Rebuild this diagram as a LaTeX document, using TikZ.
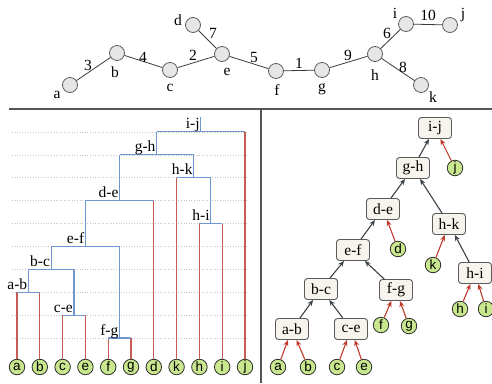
\documentclass[tikz,border=0pt]{standalone}
\usepackage{fontspec}
\setmainfont{Liberation Serif}
\newfontfamily\leaffont{Liberation Sans}
\usetikzlibrary{arrows.meta}

\definecolor{graphline}{HTML}{3A3A3A}
\definecolor{graphfill}{HTML}{E6E6E6}
\definecolor{graphdraw}{HTML}{5E5E5E}
\definecolor{dendblue}{HTML}{7096D2}
\definecolor{dendred}{HTML}{C65A55}
\definecolor{gridgray}{HTML}{C4C4C4}
\definecolor{leafgreen}{HTML}{C9E78E}
\definecolor{leafdraw}{HTML}{2E2E2E}
\definecolor{boxfill}{HTML}{F6F4EC}
\definecolor{boxdraw}{HTML}{5A5A5A}
\definecolor{arrowdark}{HTML}{3C4148}
\definecolor{arrowred}{HTML}{C0392B}
\definecolor{divider}{HTML}{555555}

\tikzset{
  gnode/.style={circle, draw=graphdraw, fill=graphfill, line width=0.8pt, minimum size=15pt, inner sep=0pt},
  gedge/.style={draw=graphline, line width=0.8pt},
  gtext/.style={inner sep=0pt, font=\fontsize{15.5}{17}\selectfont},
  leaf/.style={circle, draw=leafdraw, fill=leafgreen, line width=0.8pt, minimum size=15.5pt, inner sep=0pt,
    font=\leaffont\fontsize{13.5}{14}\selectfont},
  grid/.style={draw=gridgray, line width=0.6pt, dotted},
  redline/.style={draw=dendred, line width=1.1pt},
  blueline/.style={draw=dendblue, line width=1.1pt},
  dtext/.style={anchor=base east, inner sep=0pt, font=\fontsize{15.5}{17}\selectfont},
  mbox/.style={rectangle, rounded corners=3pt, draw=boxdraw, fill=boxfill, line width=0.9pt,
    minimum width=33pt, minimum height=21pt, inner sep=1pt, font=\fontsize{15.5}{17}\selectfont},
  darrow/.style={draw=arrowdark, line width=1.1pt, -{Stealth[length=6pt,width=5pt]}},
  rarrow/.style={draw=arrowred, line width=1.1pt, -{Stealth[length=6pt,width=5pt]}},
  sep/.style={draw=divider, line width=1.4pt}
}

\begin{document}
\begin{tikzpicture}[x=1pt,y=-1pt]
\useasboundingbox (0,0) rectangle (492,383);

% ---------------- weighted graph ----------------
\node[gnode] (va) at (70,85) {};
\node[gnode] (vb) at (117,53) {};
\node[gnode] (vc) at (170,70) {};
\node[gnode] (vd) at (193,25) {};
\node[gnode] (ve) at (222,54) {};
\node[gnode] (vf) at (276,71) {};
\node[gnode] (vg) at (322,70) {};
\node[gnode] (vh) at (375,54) {};
\node[gnode] (vi) at (406,24) {};
\node[gnode] (vj) at (450,25) {};
\node[gnode] (vk) at (421,85) {};

\draw[gedge] (va) -- (vb);
\draw[gedge] (vb) -- (vc);
\draw[gedge] (vc) -- (ve);
\draw[gedge] (vd) -- (ve);
\draw[gedge] (ve) -- (vf);
\draw[gedge] (vf) -- (vg);
\draw[gedge] (vg) -- (vh);
\draw[gedge] (vh) -- (vi);
\draw[gedge] (vh) -- (vk);
\draw[gedge] (vi) -- (vj);

% vertex names
\node[gtext] (na) at (57,95) {a};
\node[gtext] (nb) at (115,72) {b};
\node[gtext] (nc) at (170,88) {c};
\node[gtext] (nd) at (178,20) {d};
\node[gtext] (ne) at (227,72) {e};
\node[gtext] (nf) at (277,90) {f};
\node[gtext] (ng) at (322,89) {g};
\node[gtext] (nh) at (375,75) {h};
\node[gtext] (ni) at (395,13) {i};
\node[gtext] (nj) at (463,15) {j};
\node[gtext] (nk) at (433,97) {k};

% edge weights
\node[gtext] (w3) at (88,65) {3};
\node[gtext] (w4) at (143,57) {4};
\node[gtext] (w2) at (193,55) {2};
\node[gtext] (w7) at (213,33) {7};
\node[gtext] (w5) at (254,57) {5};
\node[gtext] (w1) at (299,63) {1};
\node[gtext] (w9) at (348,55) {9};
\node[gtext] (w6) at (387,33) {6};
\node[gtext] (w10) at (428,15) {10};
\node[gtext] (w8) at (403,67) {8};

% panel dividers
\coordinate (hl) at (9,109);
\coordinate (hr) at (492,109);
\coordinate (vt) at (261,109);
\coordinate (vbm) at (261,383);
\draw[sep] (hl) -- (hr);
\draw[sep] (vt) -- (vbm);

% ---------------- dendrogram ----------------
\foreach \w in {1,...,10} {
  \draw[grid] (12,{338-22.9*(\w-1)}) -- (248,{338-22.9*(\w-1)});
}

\node[leaf] (la) at (17,367) {a};
\node[leaf] (lb) at (39.8,367) {b};
\node[leaf] (lc) at (62.6,367) {c};
\node[leaf] (le) at (85.4,367) {e};
\node[leaf] (lf) at (108.2,367) {f};
\node[leaf] (lg) at (131,367) {g};
\node[leaf] (ld) at (153.8,367) {d};
\node[leaf] (lk) at (176.6,367) {k};
\node[leaf] (lh) at (199.4,367) {h};
\node[leaf] (li) at (222.2,367) {i};
\node[leaf] (lj) at (245,367) {j};

% merge points: (middle of the pair, height of the edge weight)
\coordinate (mab) at (28.4,292.2);
\coordinate (mce) at (74,315.1);
\coordinate (mbc) at (51.2,269.3);
\coordinate (mfg) at (119.6,338);
\coordinate (mef) at (85.4,246.4);
\coordinate (mde) at (119.6,200.6);
\coordinate (mhi) at (210.8,223.5);
\coordinate (mhk) at (193.7,177.7);
\coordinate (mgh) at (156.65,154.8);
\coordinate (mij) at (200.8,131.9);
\coordinate (mtop) at (200.8,117);

% leaf stems
\draw[redline] (la.north) -- (la |- mab);
\draw[redline] (lb.north) -- (lb |- mab);
\draw[redline] (lc.north) -- (lc |- mce);
\draw[redline] (le.north) -- (le |- mce);
\draw[redline] (lf.north) -- (lf |- mfg);
\draw[redline] (lg.north) -- (lg |- mfg);
\draw[redline] (ld.north) -- (ld |- mde);
\draw[redline] (lk.north) -- (lk |- mhk);
\draw[redline] (lh.north) -- (lh |- mhi);
\draw[redline] (li.north) -- (li |- mhi);
\draw[redline] (lj.north) -- (lj |- mij);

% horizontal joins
\draw[blueline] (la |- mab) -- (lb |- mab);
\draw[blueline] (lc |- mce) -- (le |- mce);
\draw[blueline] (mab |- mbc) -- (mce |- mbc);
\draw[blueline] (lf |- mfg) -- (lg |- mfg);
\draw[blueline] (mbc |- mef) -- (mfg |- mef);
\draw[blueline] (mef |- mde) -- (ld |- mde);
\draw[blueline] (lh |- mhi) -- (li |- mhi);
\draw[blueline] (lk |- mhk) -- (mhi |- mhk);
\draw[blueline] (mde |- mgh) -- (mhk |- mgh);
\draw[blueline] (mgh |- mij) -- (lj |- mij);

% internal stems
\draw[blueline] (mab) -- (mab |- mbc);
\draw[blueline] (mce) -- (mce |- mbc);
\draw[blueline] (mbc) -- (mbc |- mef);
\draw[blueline] (mfg) -- (mfg |- mef);
\draw[blueline] (mef) -- (mef |- mde);
\draw[blueline] (mde) -- (mde |- mgh);
\draw[blueline] (mhi) -- (mhi |- mhk);
\draw[blueline] (mhk) -- (mhk |- mgh);
\draw[blueline] (mgh) -- (mgh |- mij);
\draw[blueline] (mij) -- (mtop);

% merge labels
\node[dtext] (tab) at ([shift={(-1,-3)}]mab) {a-b};
\node[dtext] (tce) at ([shift={(-1,-3)}]mce) {c-e};
\node[dtext] (tbc) at ([shift={(-1,-3)}]mbc) {b-c};
\node[dtext] (tfg) at ([shift={(-1,-3)}]mfg) {f-g};
\node[dtext] (tef) at ([shift={(-1,-3)}]mef) {e-f};
\node[dtext] (tde) at ([shift={(-1,-3)}]mde) {d-e};
\node[dtext] (thi) at ([shift={(-1,-3)}]mhi) {h-i};
\node[dtext] (thk) at ([shift={(-1,-3)}]mhk) {h-k};
\node[dtext] (tgh) at ([shift={(-1,-3)}]mgh) {g-h};
\node[dtext] (tij) at ([shift={(-1,-3)}]mij) {i-j};

% ---------------- merge tree ----------------
\node[mbox] (bij) at (435,128) {i-j};
\node[mbox] (bgh) at (413,168) {g-h};
\node[mbox] (bde) at (383,209) {d-e};
\node[mbox] (bhk) at (449,224) {h-k};
\node[mbox] (bef) at (353,250) {e-f};
\node[mbox] (bhi) at (475,273) {h-i};
\node[mbox] (bbc) at (321,289) {b-c};
\node[mbox] (bfg) at (396,290) {f-g};
\node[mbox] (bab) at (292,329) {a-b};
\node[mbox] (bce) at (351,329) {c-e};

\node[leaf] (rj) at (455,168) {j};
\node[leaf] (rd) at (398,249) {d};
\node[leaf] (rk) at (433,265) {k};
\node[leaf] (rh) at (460,309) {h};
\node[leaf] (ri) at (486,309) {i};
\node[leaf] (rf) at (381,325) {f};
\node[leaf] (rg) at (409,326) {g};
\node[leaf] (ra) at (278,367) {a};
\node[leaf] (rb) at (308,367) {b};
\node[leaf] (rc) at (337,367) {c};
\node[leaf] (re) at (364,367) {e};

\draw[darrow] (bgh) -- (bij);
\draw[darrow] (bde) -- (bgh);
\draw[darrow] (bhk) -- (bgh);
\draw[darrow] (bef) -- (bde);
\draw[darrow] (bbc) -- (bef);
\draw[darrow] (bfg) -- (bef);
\draw[darrow] (bab) -- (bbc);
\draw[darrow] (bce) -- (bbc);
\draw[darrow] (bhi) -- (bhk);

\draw[rarrow] (rj) -- (bij);
\draw[rarrow] (rd) -- (bde);
\draw[rarrow] (rk) -- (bhk);
\draw[rarrow] (rh) -- (bhi);
\draw[rarrow] (ri) -- (bhi);
\draw[rarrow] (rf) -- (bfg);
\draw[rarrow] (rg) -- (bfg);
\draw[rarrow] (ra) -- (bab);
\draw[rarrow] (rb) -- (bab);
\draw[rarrow] (rc) -- (bce);
\draw[rarrow] (re) -- (bce);
\end{tikzpicture}
\end{document}
